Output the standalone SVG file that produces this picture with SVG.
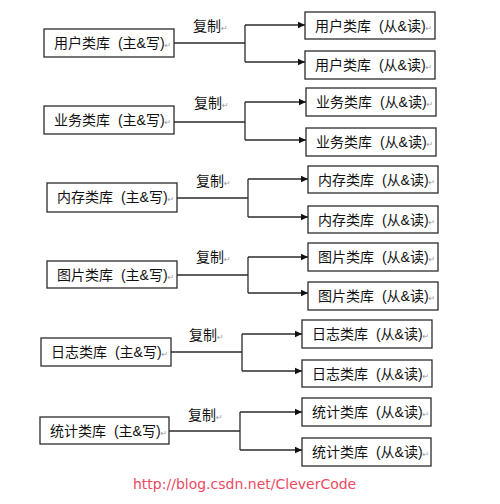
<svg xmlns="http://www.w3.org/2000/svg" width="500" height="504" viewBox="0 0 500 504">
<style>
.box{fill:#fff;stroke:#2b2b2b;stroke-width:1.3}
.t{font-family:"Liberation Sans","Noto Sans CJK SC",sans-serif;font-size:14px;fill:#111}
.pm{font-family:"DejaVu Sans",sans-serif;font-size:8px;fill:#999}
.ln{fill:none;stroke:#2b2b2b;stroke-width:1.3}
.url{font-family:"DejaVu Sans","Liberation Sans",sans-serif;font-size:14px;fill:#ec4a62}
</style>
<defs>
<marker id="ah" markerWidth="8" markerHeight="8" refX="7" refY="4" orient="auto" markerUnits="userSpaceOnUse">
<path d="M0,0.8 L7,4 L0,7.2 Z" fill="#111"/>
</marker>
</defs>
<rect width="500" height="504" fill="#fff"/>
<g id="connectors">
<path class="ln" d="M174,43 H245 M245,25 V62"/>
<path class="ln" d="M245,25 H305" marker-end="url(#ah)"/>
<path class="ln" d="M245,62 H305" marker-end="url(#ah)"/>
<path class="ln" d="M174,122 H245 M245,102 V140"/>
<path class="ln" d="M245,102 H306" marker-end="url(#ah)"/>
<path class="ln" d="M245,140 H306" marker-end="url(#ah)"/>
<path class="ln" d="M177,198 H248 M248,179 V217"/>
<path class="ln" d="M248,179 H308" marker-end="url(#ah)"/>
<path class="ln" d="M248,217 H308" marker-end="url(#ah)"/>
<path class="ln" d="M177,275 H248 M248,257 V293"/>
<path class="ln" d="M248,257 H308" marker-end="url(#ah)"/>
<path class="ln" d="M248,293 H308" marker-end="url(#ah)"/>
<path class="ln" d="M171,352 H242 M242,334 V371"/>
<path class="ln" d="M242,334 H302" marker-end="url(#ah)"/>
<path class="ln" d="M242,371 H302" marker-end="url(#ah)"/>
<path class="ln" d="M169,431 H240 M240,412 V450"/>
<path class="ln" d="M240,412 H302" marker-end="url(#ah)"/>
<path class="ln" d="M240,450 H302" marker-end="url(#ah)"/>
<text class="t" x="193" y="31">复制<tspan class="pm">↵</tspan></text>
<text class="t" x="194" y="108">复制<tspan class="pm">↵</tspan></text>
<text class="t" x="196" y="186">复制<tspan class="pm">↵</tspan></text>
<text class="t" x="196" y="262">复制<tspan class="pm">↵</tspan></text>
<text class="t" x="189" y="340">复制<tspan class="pm">↵</tspan></text>
<text class="t" x="188" y="420">复制<tspan class="pm">↵</tspan></text>
</g>
<g id="user-master"><rect class="box" x="44" y="29" width="130" height="28"/><text class="t" x="54" y="48">用户类库 <tspan dx="4">(主&amp;写)</tspan><tspan class="pm">↵</tspan></text></g>
<g id="user-slave1"><rect class="box" x="305" y="12" width="130" height="27"/><text class="t" x="315" y="31">用户类库 <tspan dx="4">(从&amp;读)</tspan><tspan class="pm">↵</tspan></text></g>
<g id="user-slave2"><rect class="box" x="305" y="51" width="130" height="28"/><text class="t" x="315" y="70">用户类库 <tspan dx="4">(从&amp;读)</tspan><tspan class="pm">↵</tspan></text></g>
<g id="biz-master"><rect class="box" x="44" y="106" width="130" height="28"/><text class="t" x="54" y="125">业务类库 <tspan dx="4">(主&amp;写)</tspan><tspan class="pm">↵</tspan></text></g>
<g id="biz-slave1"><rect class="box" x="306" y="88" width="130" height="28"/><text class="t" x="316" y="107">业务类库 <tspan dx="4">(从&amp;读)</tspan><tspan class="pm">↵</tspan></text></g>
<g id="biz-slave2"><rect class="box" x="306" y="128" width="130" height="28"/><text class="t" x="316" y="147">业务类库 <tspan dx="4">(从&amp;读)</tspan><tspan class="pm">↵</tspan></text></g>
<g id="mem-master"><rect class="box" x="47" y="183" width="130" height="29"/><text class="t" x="57" y="202">内存类库 <tspan dx="4">(主&amp;写)</tspan><tspan class="pm">↵</tspan></text></g>
<g id="mem-slave1"><rect class="box" x="308" y="166" width="130" height="27"/><text class="t" x="318" y="185">内存类库 <tspan dx="4">(从&amp;读)</tspan><tspan class="pm">↵</tspan></text></g>
<g id="mem-slave2"><rect class="box" x="308" y="206" width="130" height="27"/><text class="t" x="318" y="225">内存类库 <tspan dx="4">(从&amp;读)</tspan><tspan class="pm">↵</tspan></text></g>
<g id="img-master"><rect class="box" x="47" y="261" width="130" height="27"/><text class="t" x="57" y="280">图片类库 <tspan dx="4">(主&amp;写)</tspan><tspan class="pm">↵</tspan></text></g>
<g id="img-slave1"><rect class="box" x="308" y="243" width="130" height="28"/><text class="t" x="318" y="262">图片类库 <tspan dx="4">(从&amp;读)</tspan><tspan class="pm">↵</tspan></text></g>
<g id="img-slave2"><rect class="box" x="308" y="282" width="130" height="28"/><text class="t" x="318" y="301">图片类库 <tspan dx="4">(从&amp;读)</tspan><tspan class="pm">↵</tspan></text></g>
<g id="log-master"><rect class="box" x="41" y="338" width="130" height="28"/><text class="t" x="51" y="357">日志类库 <tspan dx="4">(主&amp;写)</tspan><tspan class="pm">↵</tspan></text></g>
<g id="log-slave1"><rect class="box" x="302" y="320" width="130" height="28"/><text class="t" x="312" y="339">日志类库 <tspan dx="4">(从&amp;读)</tspan><tspan class="pm">↵</tspan></text></g>
<g id="log-slave2"><rect class="box" x="302" y="360" width="130" height="27"/><text class="t" x="312" y="379">日志类库 <tspan dx="4">(从&amp;读)</tspan><tspan class="pm">↵</tspan></text></g>
<g id="stat-master"><rect class="box" x="40" y="417" width="129" height="27"/><text class="t" x="50" y="436">统计类库 <tspan dx="4">(主&amp;写)</tspan><tspan class="pm">↵</tspan></text></g>
<g id="stat-slave1"><rect class="box" x="302" y="398" width="129" height="28"/><text class="t" x="312" y="417">统计类库 <tspan dx="4">(从&amp;读)</tspan><tspan class="pm">↵</tspan></text></g>
<g id="stat-slave2"><rect class="box" x="302" y="438" width="129" height="28"/><text class="t" x="312" y="457">统计类库 <tspan dx="4">(从&amp;读)</tspan><tspan class="pm">↵</tspan></text></g>
<text class="url" x="133" y="489">http://blog.csdn.net/CleverCode</text>
</svg>
